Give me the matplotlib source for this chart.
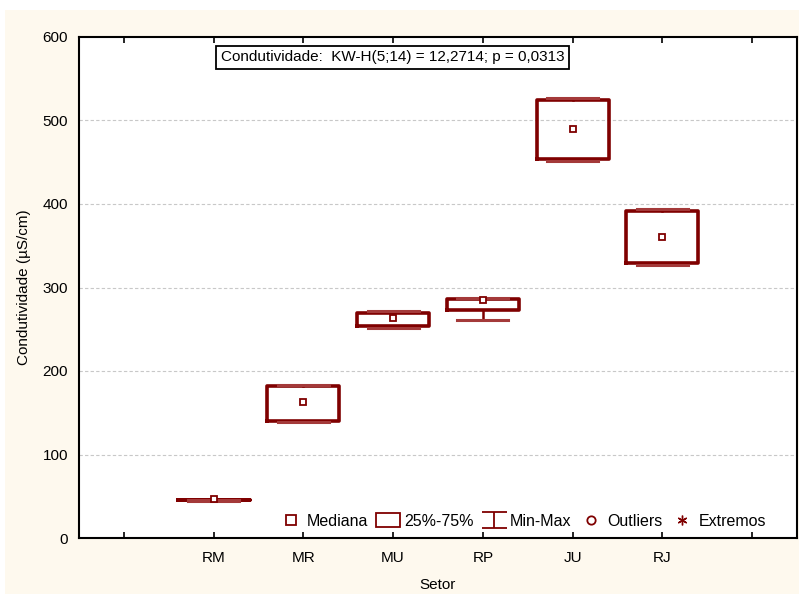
import matplotlib
matplotlib.use("Agg")
import matplotlib.pyplot as plt
from matplotlib.patches import Rectangle
from matplotlib.path import Path
from matplotlib.lines import Line2D

plt.rcParams['font.family'] = ['Liberation Sans', 'DejaVu Sans']

# Conductivity by sector (µS/cm)
setores = ['RM', 'MR', 'MU', 'RP', 'JU', 'RJ']
minimo = [44, 139, 252, 261, 452, 327]
q1 = [45, 140, 254, 273, 454, 329]
mediana = [47, 163, 264, 285, 490, 361]
q3 = [46, 182, 270, 286, 525, 392]
maximo = [46, 183, 272, 288, 527, 394]
yticks = [0, 100, 200, 300, 400, 500, 600]

titulo = 'Condutividade:  KW-H(5;14) = 12,2714; p = 0,0313'

W, H = 799, 597
fig = plt.figure(figsize=(W / 100, H / 100), dpi=100, facecolor='white')
# cream panel behind the plot
fig.patches.append(Rectangle((5 / W, 3 / H), 794 / W, 584 / H,
                             transform=fig.transFigure, facecolor='#FEF9EE',
                             edgecolor='none', zorder=-10))

ax = fig.add_axes([79 / W, (H - 538) / H, 718 / W, 501 / H])
ax.set_zorder(1)
ax.set_facecolor('white')

dark = '#7F0000'
cap_c = '#A43A3A'

pos = list(range(1, len(setores) + 1))
stats = []
for i, s in enumerate(setores):
    stats.append(dict(label=s, med=mediana[i], q1=min(q1[i], q3[i]),
                      q3=max(q1[i], q3[i]), whislo=minimo[i], whishi=maximo[i]))

ax.bxp(stats, positions=pos, widths=0.8, capwidths=0.57, showfliers=False,
       boxprops=dict(color=dark, linewidth=2.6),
       whiskerprops=dict(color=dark, linewidth=1.8),
       capprops=dict(color=cap_c, linewidth=2.2),
       medianprops=dict(linewidth=0, alpha=0), zorder=3)
ax.plot(pos, mediana, linestyle='none', marker='s', markersize=5,
        markerfacecolor='white', markeredgecolor=dark, markeredgewidth=1.3,
        zorder=5)

ax.set_xlim(-0.5, 7.5)
ax.set_ylim(0, 600)
ax.set_xticks(range(0, 8))
ax.set_xticklabels([''] + setores + [''], fontsize=11)
ax.set_yticks(yticks)
ax.set_yticklabels([str(v) for v in yticks], fontsize=11)
ax.tick_params(axis='x', direction='in', length=4, width=1.2, top=True,
               pad=9, colors='black')
ax.tick_params(axis='y', length=0, pad=8)
for y in yticks[1:-1]:
    ax.axhline(y, color='#C8C8C8', linestyle=(0, (3, 2)), linewidth=0.8, zorder=1)
for sp in ax.spines.values():
    sp.set_linewidth(1.5)
    sp.set_color('black')

ax.set_xlabel('Setor', fontsize=11, labelpad=10)
ax.set_ylabel('Condutividade (µS/cm)', fontsize=11, labelpad=8)

ax.text((392.5 - 79) / 718, (538 - 57.5) / 501, titulo, transform=ax.transAxes,
        fontsize=11, ha='center', va='center',
        bbox=dict(boxstyle='square,pad=0.28', facecolor='white',
                  edgecolor='black', linewidth=1.3), zorder=6)

# legend drawn as a custom row of handles
ibeam = Path([(-0.5, 0.32), (0.5, 0.32), (0, 0.32), (0, -0.32), (-0.5, -0.32), (0.5, -0.32)],
             [Path.MOVETO, Path.LINETO, Path.MOVETO, Path.LINETO, Path.MOVETO, Path.LINETO])
handles = [
    Line2D([], [], linestyle='none', marker='s', markersize=6.5,
           markerfacecolor='white', markeredgecolor=dark, markeredgewidth=1.3),
    Rectangle((0, 0), 1, 1, facecolor='white', edgecolor=dark, linewidth=1.3),
    Line2D([], [], linestyle='none', marker=ibeam, markersize=18,
           markeredgecolor=dark, markeredgewidth=1.3),
    Line2D([], [], linestyle='none', marker='o', markersize=6,
           markerfacecolor='white', markeredgecolor=dark, markeredgewidth=1.3),
    Line2D([], [], linestyle='none', marker=(6, 2, 0), markersize=7,
           markeredgecolor=dark, markeredgewidth=1.0),
]
labels = ['Mediana', '25%-75%', 'Min-Max', 'Outliers', 'Extremos']
leg = ax.legend(handles, labels, loc='center right', ncol=5, frameon=False,
                fontsize=11.5, handlelength=1.55, handleheight=0.9,
                handletextpad=0.25, columnspacing=0.45, borderaxespad=0,
                borderpad=0, bbox_to_anchor=((766 - 79) / 718, (538 - 521) / 501))
leg.set_zorder(6)

fig.savefig('out.png', dpi=100, facecolor='white')
